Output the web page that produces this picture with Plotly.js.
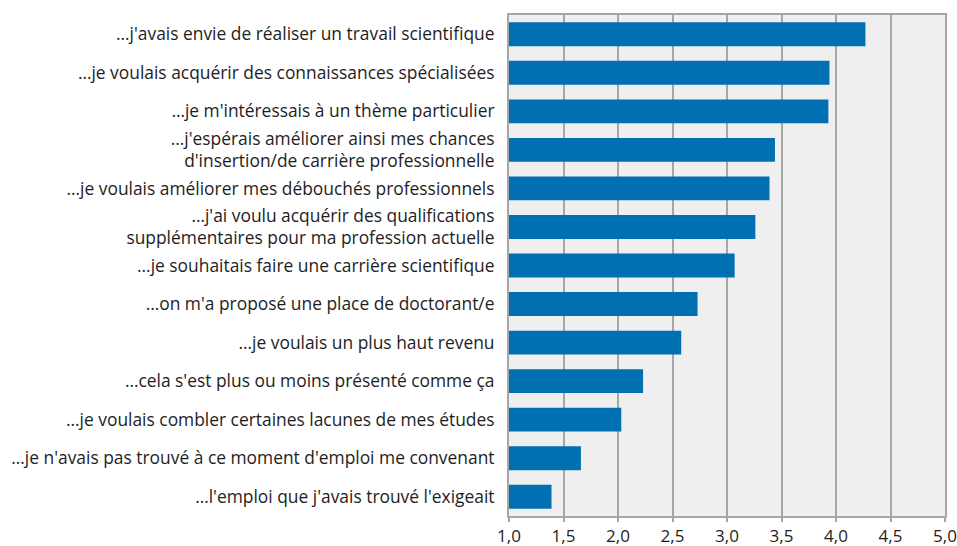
<!DOCTYPE html>
<html>
<head>
<meta charset="utf-8">
<script src="https://cdn.plot.ly/plotly-3.0.1.min.js"></script>
<style>
  html, body { margin: 0; padding: 0; background: #fff; }
  #chart { width: 957px; height: 546px; }
</style>
</head>
<body>
<div id="chart"></div>
<script>
// reasons, top to bottom
const reasons = [
    "…j'avais envie de réaliser un travail scientifique",
    "…je voulais acquérir des connaissances spécialisées",
    "…je m'intéressais à un thème particulier",
    "…j'espérais améliorer ainsi mes chances<br>d'insertion/de carrière professionnelle",
    "…je voulais améliorer mes débouchés professionnels",
    "…j'ai voulu acquérir des qualifications<br>supplémentaires pour ma profession actuelle",
    "…je souhaitais faire une carrière scientifique",
    "…on m'a proposé une place de doctorant/e",
    "…je voulais un plus haut revenu",
    "…cela s'est plus ou moins présenté comme ça",
    "…je voulais combler certaines lacunes de mes études",
    "…je n'avais pas trouvé à ce moment d'emploi me convenant",
    "…l'emploi que j'avais trouvé l'exigeait"
];

// mean score (scale 1 to 5)
const scores = [4.27, 3.94, 3.93, 3.44, 3.39, 3.26, 3.07, 2.73, 2.58, 2.23, 2.03, 1.66, 1.39];

const xTicks = [1, 1.5, 2, 2.5, 3, 3.5, 4, 4.5, 5];

const gridGrey = '#a6a6a6';

Plotly.newPlot('chart', [{
    type: 'bar',
    orientation: 'h',
    y: reasons,
    x: scores,
    width: 0.62,
    marker: { color: '#0070b2' },
    hoverinfo: 'x+y'
}], {
    width: 957,
    height: 546,
    margin: { l: 509, r: 12, t: 15, b: 30 },
    paper_bgcolor: '#ffffff',
    plot_bgcolor: '#efefef',
    separators: ',.',
    font: { family: 'Open Sans, Noto Sans, sans-serif', size: 17.4, color: '#1e1e1e' },
    showlegend: false,
    xaxis: {
        range: [1, 5],
        tickvals: xTicks,
        tickformat: '.1f',
        showgrid: true,
        gridcolor: gridGrey,
        gridwidth: 2,
        zeroline: false,
        showline: true,
        mirror: true,
        linecolor: gridGrey,
        linewidth: 2,
        ticks: 'outside',
        ticklen: 4,
        tickcolor: gridGrey,
        tickwidth: 2,
        ticklabeloverflow: 'allow',
        tickfont: { size: 17 }
    },
    yaxis: {
        autorange: 'reversed',
        showgrid: false,
        zeroline: false,
        showline: true,
        mirror: true,
        linecolor: gridGrey,
        linewidth: 2,
        ticks: 'outside',
        ticklen: 9,
        tickcolor: 'rgba(0,0,0,0)'
    }
}, { displayModeBar: false, staticPlot: true });
</script>
</body>
</html>
